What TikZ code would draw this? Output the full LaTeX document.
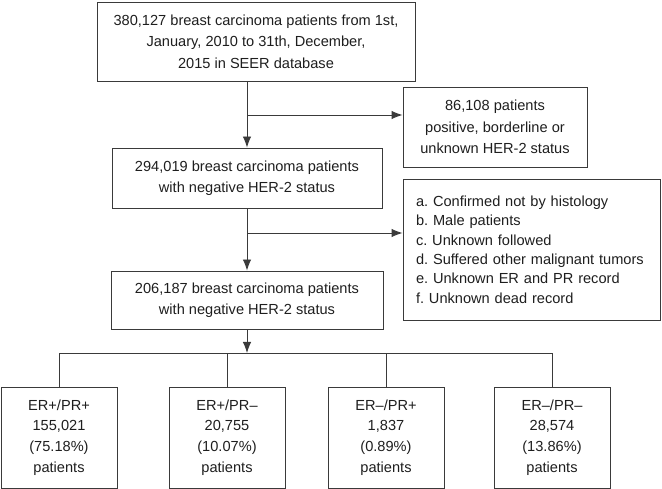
\documentclass[tikz,border=0pt]{standalone}
\usepackage{fontspec}
\setmainfont{Liberation Sans}
\usetikzlibrary{positioning, calc, arrows.meta}
\definecolor{linea}{HTML}{3A3A3A}
\definecolor{testo}{HTML}{1E1E1E}
\frenchspacing

\begin{document}
\begin{tikzpicture}[x=1pt,y=-1pt,
        box/.style={draw=linea, line width=0.9pt, align=center, inner sep=0pt, text=testo, font=\fontsize{14.6}{21.5}\selectfont},
        gruppo/.style={box, minimum width=116, minimum height=101, font=\fontsize{14.6}{20.8}\selectfont},
        freccia/.style={-{Latex[length=11pt,width=8.5pt]}, line width=0.9pt, draw=linea}]
        \useasboundingbox (0,0) rectangle (662,489);
        %riquadri centrali
            \node[box, minimum width=318, minimum height=79] (fonte) at (256,41.5)
            {380,127 breast carcinoma patients from 1st,\\ January, 2010 to 31th, December,\\ 2015 in SEER database};
            \node[box, minimum width=270, minimum height=60] (neg1) at (247,178)
            {294,019 breast carcinoma patients\\ with negative HER-2 status};
            \node[box, minimum width=272, minimum height=58] (neg2) at (247,300)
            {206,187 breast carcinoma patients\\ with negative HER-2 status};
        %riquadri esclusi
            \node[box, minimum width=184, minimum height=80] (escl1) at (495,127)
            {86,108 patients\\ positive, borderline or\\ unknown HER-2 status};
            \node[box, minimum width=257, minimum height=141, align=left, text width=231, font=\fontsize{14.6}{19.4}\selectfont] (escl2) at (531.5,249.5)
            {a. Confirmed not by histology\\ b. Male patients\\ c. Unknown followed\\ d. Suffered other malignant tumors\\ e. Unknown ER and PR record\\ f. Unknown dead record};
        %gruppi ER/PR
            \node[gruppo] (g1) at (59,437.5) {ER+/PR+\\ 155,021\\ (75.18\%)\\ patients};
            \node[gruppo] (g2) at (227,437.5) {ER+/PR\textendash\\ 20,755\\ (10.07\%)\\ patients};
            \node[gruppo] (g3) at (386,437.5) {ER\textendash/PR+\\ 1,837\\ (0.89\%)\\ patients};
            \node[gruppo] (g4) at (552,437.5) {ER\textendash/PR\textendash\\ 28,574\\ (13.86\%)\\ patients};
        %collegamenti
            \coordinate (b1) at (247,115);
            \coordinate (b2) at (247,233);
            \coordinate (nodo) at (247,353);
            \draw[freccia] (fonte.south -| neg1.north) -- (neg1.north);
            \draw[freccia] (b1) -- (b1 -| escl1.west);
            \draw[freccia] (neg1.south) -- (neg2.north);
            \draw[freccia] (b2) -- (b2 -| escl2.west);
            \draw[freccia] (neg2.south) -- (nodo);
            \draw[line width=0.9pt, linea] (g1.north) -- (g1.north |- nodo) -- (g4.north |- nodo) -- (g4.north);
            \draw[line width=0.9pt, linea] (g2.north) -- (g2.north |- nodo);
            \draw[line width=0.9pt, linea] (g3.north) -- (g3.north |- nodo);
    \end{tikzpicture}
\end{document}
